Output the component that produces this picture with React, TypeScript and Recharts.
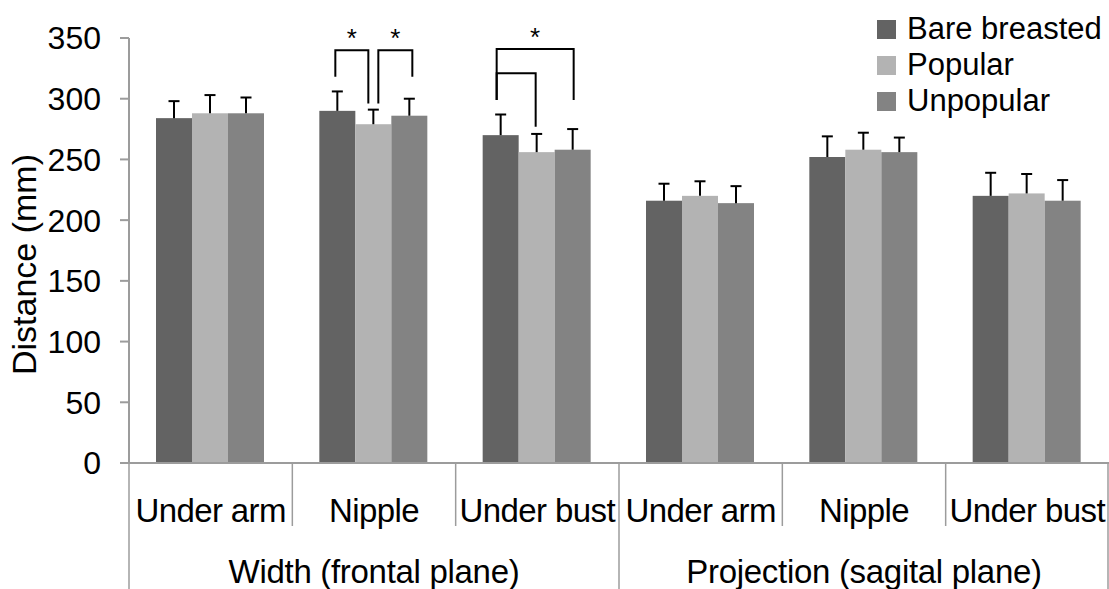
import React from 'react';
import { BarChart, Bar, XAxis, YAxis } from 'recharts';

const categories = ['Under arm', 'Nipple', 'Under bust', 'Under arm', 'Nipple', 'Under bust'];
const groupLabels = ['Width (frontal plane)', 'Projection (sagital plane)'];
const seriesNames = ['Bare breasted', 'Popular', 'Unpopular'];
const bareBreasted = [284, 290, 270, 216, 252, 220];
const bareBreastedErr = [14, 16, 17, 14, 17, 19];
const popular = [288, 279, 256, 220, 258, 222];
const popularErr = [15, 12, 15, 12, 14, 16];
const unpopular = [288, 286, 258, 214, 256, 216];
const unpopularErr = [13, 14, 17, 14, 12, 17];
const yTicks = [0, 50, 100, 150, 200, 250, 300, 350];

// significance brackets: category index, bar indices, top level and leg ends (mm)
const brackets = [
  { cat: 1, from: 0, to: 1, top: 340, fromEnd: 318, toEnd: 296, star: true },
  { cat: 1, from: 1, to: 2, top: 340, fromEnd: 296, toEnd: 318, star: true },
  { cat: 2, from: 0, to: 2, top: 341, fromEnd: 299, toEnd: 299, star: true },
  { cat: 2, from: 0, to: 1, top: 321, fromEnd: 299, toEnd: 277, star: false },
];

const COLORS = ['#636363', '#b3b3b3', '#838383'];
const AXIS = '#9c9c9c';
const FONT = '"Liberation Sans", Arial, sans-serif';
const BRACKET_NUDGE = [[-2, -5], [5, 3], [-4, 1], [-4, -1]];

const data = categories.map((c, i) => ({
  name: c,
  idx: i,
  bare: bareBreasted[i],
  bareErr: bareBreastedErr[i],
  pop: popular[i],
  popErr: popularErr[i],
  unpop: unpopular[i],
  unpopErr: unpopularErr[i],
}));

function makeShape(key: string, errKey: string, withBrackets: boolean) {
  return (props: any) => {
    const { x, y, width, height, fill, payload, index } = props;
    const v = payload[key];
    const ppu = height / v;
    const base = y + height;
    const toY = (val: number) => base - val * ppu;
    const cx = x + width / 2;
    const errTop = toY(v + payload[errKey]);
    const items: any[] = [];
    if (withBrackets) {
      brackets.forEach((b, bi) => {
        if (b.cat !== index) return;
        const x1 = x + width * (b.from + 0.5) + BRACKET_NUDGE[bi][0];
        const x2 = x + width * (b.to + 0.5) + BRACKET_NUDGE[bi][1];
        const ty = toY(b.top);
        items.push(
          <path
            key={'b' + bi}
            d={`M${x1},${toY(b.fromEnd)} L${x1},${ty} L${x2},${ty} L${x2},${toY(b.toEnd)}`}
            fill="none"
            stroke="#000"
            strokeWidth={2}
          />
        );
        if (b.star) {
          items.push(
            <text key={'s' + bi} x={(x1 + x2) / 2} y={ty - 3} textAnchor="middle" fontSize={26} fontFamily={FONT} fill="#000">
              *
            </text>
          );
        }
      });
    }
    return (
      <g>
        <rect x={x} y={y} width={width} height={height} fill={fill} />
        <line x1={cx} x2={cx} y1={y} y2={errTop} stroke="#000" strokeWidth={2} />
        <line x1={cx - 5.5} x2={cx + 5.5} y1={errTop} y2={errTop} stroke="#000" strokeWidth={2} />
        {items}
      </g>
    );
  };
}

const XTick = (props: any) => {
  const { x, y, payload, index } = props;
  const half = payload.offset;
  const last = categories.length - 1;
  const left = x - half;
  const right = x + half;
  const longLeft = index % 3 === 0;
  return (
    <g>
      <line x1={left} x2={left} y1={y} y2={longLeft ? 589 : y + 63} stroke={AXIS} strokeWidth={1.5} />
      {index === last && <line x1={right - 1} x2={right - 1} y1={y} y2={589} stroke={AXIS} strokeWidth={1.5} />}
      <text x={x} y={y + 59} textAnchor="middle" fontSize={33} fontFamily={FONT} fill="#000" letterSpacing={-0.6}>
        {payload.value}
      </text>
      {index % 3 === 1 && (
        <text x={x} y={y + 120} textAnchor="middle" fontSize={33} fontFamily={FONT} fill="#000" letterSpacing={-0.3}>
          {groupLabels[Math.floor(index / 3)]}
        </text>
      )}
    </g>
  );
};

const YLabel = (props: any) => {
  const vb = props.viewBox || { x: 0, y: 38, width: 129, height: 425 };
  const cx = 36;
  const cy = vb.y + vb.height / 2 + 14;
  return (
    <text
      x={cx}
      y={cy}
      transform={`rotate(-90, ${cx}, ${cy})`}
      textAnchor="middle"
      fontSize={34}
      fontFamily={FONT}
      fill="#000"
    >
      Distance (mm)
    </text>
  );
};

export default function App() {
  return (
    <div style={{ position: 'absolute', left: 0, top: 0, width: 1109, height: 589, background: '#fff' }}>
      <BarChart
        width={1109}
        height={589}
        data={data}
        margin={{ top: 38, right: 0, bottom: 0, left: 0 }}
        barCategoryGap={27}
        barGap={0}
      >
        <XAxis
          dataKey="name"
          height={126}
          interval={0}
          tickLine={false}
          tickSize={0}
          tickMargin={0}
          axisLine={{ stroke: AXIS, strokeWidth: 2 }}
          tick={<XTick />}
        />
        <YAxis
          width={129}
          domain={[0, 350]}
          ticks={yTicks}
          interval={0}
          tickSize={9}
          tickMargin={19}
          axisLine={{ stroke: AXIS, strokeWidth: 2 }}
          tickLine={{ stroke: AXIS, strokeWidth: 2 }}
          tick={{ fill: '#000', fontSize: 32, fontFamily: FONT }}
          label={<YLabel />}
        />
        <Bar dataKey="bare" fill={COLORS[0]} isAnimationActive={false} shape={makeShape('bare', 'bareErr', true)} />
        <Bar dataKey="pop" fill={COLORS[1]} isAnimationActive={false} shape={makeShape('pop', 'popErr', false)} />
        <Bar dataKey="unpop" fill={COLORS[2]} isAnimationActive={false} shape={makeShape('unpop', 'unpopErr', false)} />
      </BarChart>
      <div style={{ position: 'absolute', left: 877, top: 11, fontFamily: FONT, fontSize: 31, color: '#000' }}>
        {seriesNames.map((n, i) => (
          <div key={n} style={{ display: 'flex', alignItems: 'center', height: 36, lineHeight: '36px', whiteSpace: 'nowrap' }}>
            <span style={{ display: 'inline-block', width: 19, height: 19, background: COLORS[i], marginRight: 11 }} />
            <span>{n}</span>
          </div>
        ))}
      </div>
    </div>
  );
}
